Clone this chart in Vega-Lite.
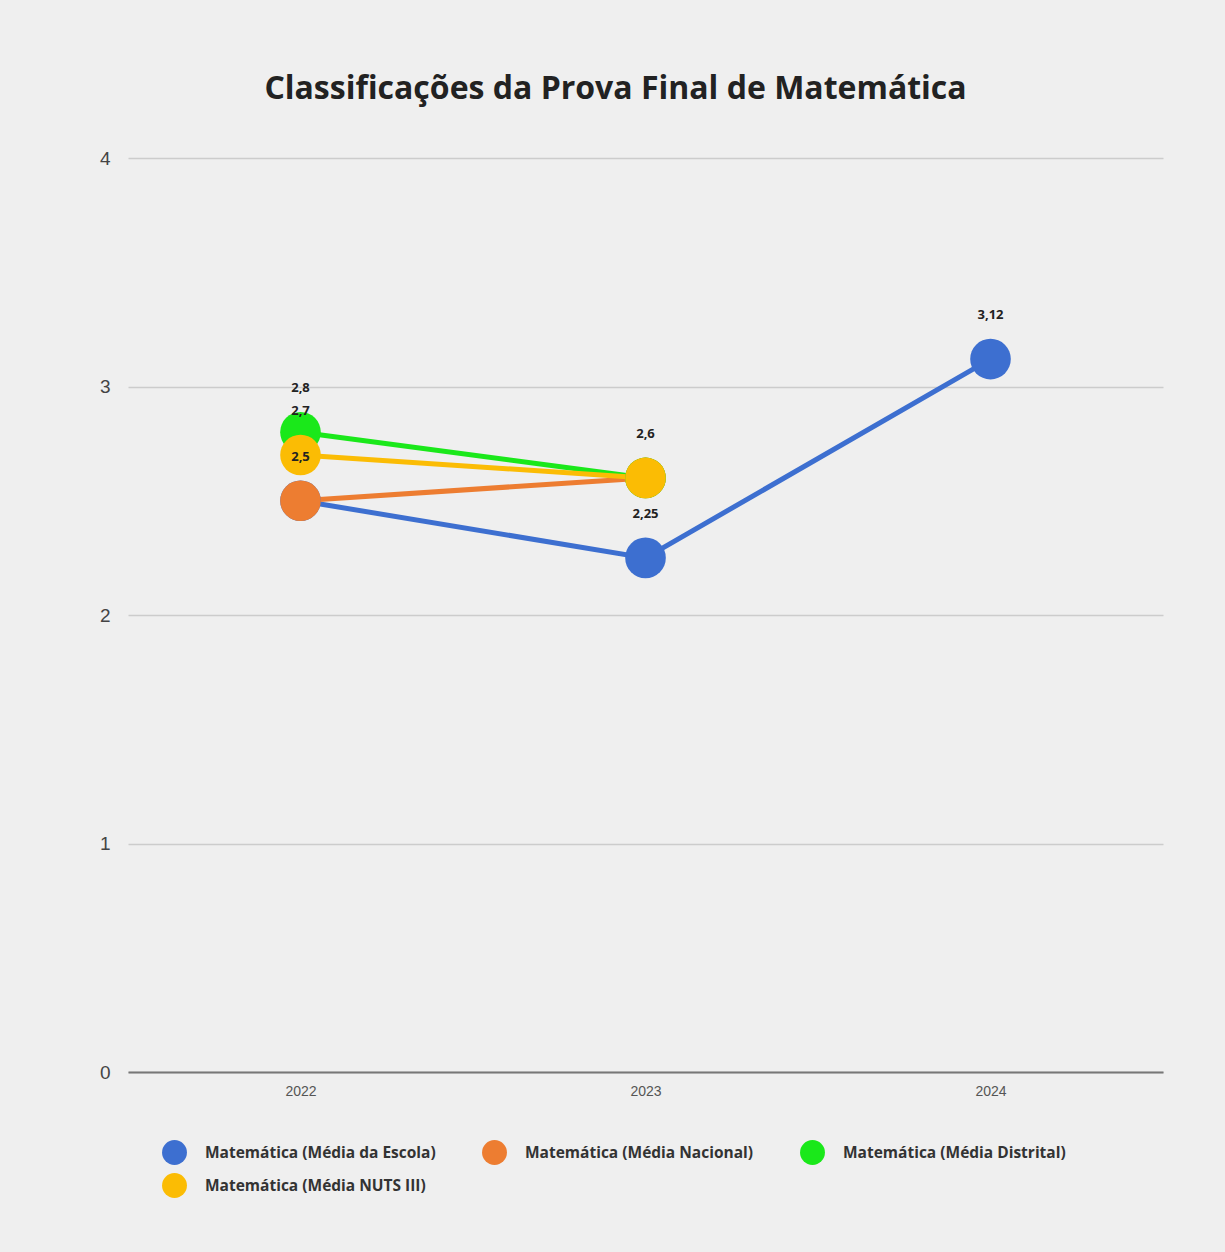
{
  "$schema": "https://vega.github.io/schema/vega-lite/v6.json",
  "width": 1035,
  "height": 914,
  "autosize": {"type": "none"},
  "padding": {"left": 128, "top": 158, "right": 62, "bottom": 180},
  "background": "#efefef",
  "config": {"view": {"stroke": null}},
  "title": {
    "text": "Classificações da Prova Final de Matemática",
    "font": "Open Sans",
    "fontSize": 32,
    "fontWeight": "bold",
    "color": "#222222",
    "anchor": "middle",
    "frame": "group",
    "dx": -30,
    "offset": 43
  },
  "data": {
    "values": [
      {"ano": "2022", "serie": "Matemática (Média da Escola)", "valor": 2.5, "rotulo": ""},
      {"ano": "2023", "serie": "Matemática (Média da Escola)", "valor": 2.25, "rotulo": "2,25"},
      {"ano": "2024", "serie": "Matemática (Média da Escola)", "valor": 3.12, "rotulo": "3,12"},
      {"ano": "2022", "serie": "Matemática (Média Nacional)", "valor": 2.5, "rotulo": "2,5"},
      {"ano": "2023", "serie": "Matemática (Média Nacional)", "valor": 2.6, "rotulo": ""},
      {"ano": "2022", "serie": "Matemática (Média Distrital)", "valor": 2.8, "rotulo": "2,8"},
      {"ano": "2023", "serie": "Matemática (Média Distrital)", "valor": 2.6, "rotulo": ""},
      {"ano": "2022", "serie": "Matemática (Média NUTS III)", "valor": 2.7, "rotulo": "2,7"},
      {"ano": "2023", "serie": "Matemática (Média NUTS III)", "valor": 2.6, "rotulo": "2,6"}
    ]
  },
  "encoding": {
    "x": {
      "field": "ano",
      "type": "ordinal",
      "scale": {"type": "point", "padding": 0.5},
      "axis": {
        "title": null,
        "labelAngle": 0,
        "labelFont": "Liberation Sans",
        "labelFontSize": 14,
        "labelColor": "#555555",
        "labelPadding": 12,
        "ticks": false,
        "grid": false,
        "domain": true,
        "domainColor": "#777777",
        "domainWidth": 2
      }
    },
    "y": {
      "field": "valor",
      "type": "quantitative",
      "scale": {"domain": [0, 4], "nice": false},
      "axis": {
        "title": null,
        "values": [0, 1, 2, 3, 4],
        "labelFont": "Liberation Sans",
        "labelFontSize": 19,
        "labelColor": "#444444",
        "labelPadding": 18,
        "ticks": false,
        "domain": false,
        "grid": true,
        "gridColor": "#cccccc",
        "gridWidth": 1.5
      }
    },
    "color": {
      "field": "serie",
      "type": "nominal",
      "scale": {
        "domain": ["Matemática (Média da Escola)", "Matemática (Média Nacional)", "Matemática (Média Distrital)", "Matemática (Média NUTS III)"],
        "range": ["#3d6fd0", "#ed7d31", "#1ae81a", "#fbbc04"]
      },
      "legend": {
        "title": null,
        "orient": "none",
        "legendX": 34,
        "legendY": 982,
        "direction": "horizontal",
        "columns": 3,
        "padding": 0,
        "symbolType": "circle",
        "symbolSize": 620,
        "symbolOpacity": 1,
        "symbolStrokeWidth": 0,
        "labelFont": "Open Sans",
        "labelFontSize": 15.5,
        "labelFontWeight": "bold",
        "labelColor": "#333333",
        "labelLimit": 0,
        "labelOffset": 18,
        "columnPadding": 46,
        "rowPadding": 8
      }
    }
  },
  "layer": [
    {"mark": {"type": "line", "strokeWidth": 5}},
    {"mark": {"type": "point", "filled": true, "size": 1650, "opacity": 1}},
    {
      "mark": {"type": "text", "dy": -44, "font": "Open Sans", "fontWeight": "bold", "fontSize": 13},
      "encoding": {"text": {"field": "rotulo"}, "color": {"value": "#222222"}}
    }
  ]
}
